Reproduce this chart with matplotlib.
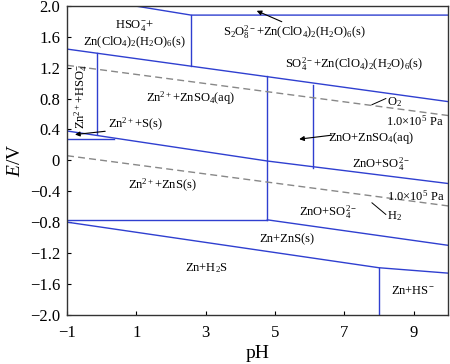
import matplotlib
matplotlib.use('Agg')
import matplotlib.pyplot as plt

plt.rcParams['font.family'] = ['Liberation Serif', 'DejaVu Serif']
plt.rcParams['mathtext.fontset'] = 'custom'
plt.rcParams['mathtext.rm'] = 'Liberation Serif'
plt.rcParams['mathtext.it'] = 'Liberation Serif:italic'
plt.rcParams['axes.unicode_minus'] = True

# boundary lines (pH, E/V)
s2o8_ph = [0.94, 2.58, 10.0]
s2o8_E = [2.0, 1.88, 1.88]
hso4_vert_ph = [2.58, 2.58]
hso4_vert_E = [1.88, 1.22]
so4_upper_ph = [-1.0, 10.0]
so4_upper_E = [1.44, 0.76]
zn_hso4_ph = [-0.13, -0.13]
zn_hso4_E = [1.387, 0.34]
s_horiz_ph = [-1.0, 0.36]
s_horiz_E = [0.28, 0.28]
znso4_lower_ph = [-1.0, 4.8, 10.0]
znso4_lower_E = [0.38, -0.01, -0.30]
zno_vert1_ph = [4.78, 4.78]
zno_vert1_E = [1.09, -0.77]
zno_vert2_ph = [6.1, 6.1]
zno_vert2_E = [0.98, -0.10]
zns_horiz_ph = [-1.0, 4.78]
zns_horiz_E = [-0.77, -0.77]
zn_zns_ph = [4.78, 10.0]
zn_zns_E = [-0.77, -1.10]
zn_h2s_ph = [-1.0, 8.0, 10.0]
zn_h2s_E = [-0.80, -1.39, -1.46]
hs_vert_ph = [8.0, 8.0]
hs_vert_E = [-1.39, -2.0]
# water stability lines
o2_ph = [-1.0, 10.0]
o2_E = [1.23, 0.58]
h2_ph = [-1.0, 10.0]
h2_E = [0.06, -0.59]

xticks = [-1, 1, 3, 5, 7, 9]
yticks = [-2.0, -1.6, -1.2, -0.8, -0.4, 0, 0.4, 0.8, 1.2, 1.6, 2.0]
ylabels = ['\u22122.0', '\u22121.6', '\u22121.2', '\u22120.8', '\u22120.4', '0',
           '0.4', '0.8', '1.2', '1.6', '2.0']

fig = plt.figure(figsize=(4.5, 3.64), dpi=100)
ax = fig.add_axes([0.149, 0.135, 0.847, 0.849])

blue = '#2f3fd0'
segs = [(s2o8_ph, s2o8_E), (hso4_vert_ph, hso4_vert_E), (so4_upper_ph, so4_upper_E),
        (zn_hso4_ph, zn_hso4_E), (s_horiz_ph, s_horiz_E), (znso4_lower_ph, znso4_lower_E),
        (zno_vert1_ph, zno_vert1_E), (zno_vert2_ph, zno_vert2_E),
        (zns_horiz_ph, zns_horiz_E), (zn_zns_ph, zn_zns_E),
        (zn_h2s_ph, zn_h2s_E), (hs_vert_ph, hs_vert_E)]
for xs, ys in segs:
    ax.plot(xs, ys, color=blue, lw=1.0)

ax.plot(o2_ph, o2_E, color='#888888', lw=1.0, dashes=(5, 3))
ax.plot(h2_ph, h2_E, color='#888888', lw=1.0, dashes=(5, 3))

fs = 9
pa = r'$\mathit{1.0{\times}10^5}$ Pa'
ax.text(0.94, 1.74, r'HSO$_4^{-}$+', ha='center', va='center', fontsize=fs)
ax.text(0.94, 1.53, r'Zn(ClO$_4$)$_2$(H$_2$O)$_6$(s)', ha='center', va='center', fontsize=fs)
ax.text(5.56, 1.66, r'S$_2$O$_8^{2-}$+Zn(ClO$_4$)$_2$(H$_2$O)$_6$(s)', ha='center', va='center', fontsize=fs)
ax.annotate('', xy=(4.4, 1.95), xytext=(5.27, 1.78),
            arrowprops=dict(arrowstyle='-|>', color='black', lw=0.8, mutation_scale=7))
ax.text(7.29, 1.25, r'SO$_4^{2-}$+Zn(ClO$_4$)$_2$(H$_2$O)$_6$(s)', ha='center', va='center', fontsize=fs)
ax.text(-0.6, 0.82, r'Zn$^{2+}$+HSO$_4^{-}$', ha='center', va='center', fontsize=fs, rotation=90)
ax.text(2.58, 0.81, r'Zn$^{2+}$+ZnSO$_4$(aq)', ha='center', va='center', fontsize=fs)
ax.text(0.18, 0.46, r'Zn$^{2+}$+S(s)', ha='left', va='center', fontsize=fs)
ax.annotate('', xy=(-0.85, 0.33), xytext=(0.18, 0.38),
            arrowprops=dict(arrowstyle='-|>', color='black', lw=0.8, mutation_scale=7))
ax.text(8.45, 0.76, r'O$_2$', ha='center', va='center', fontsize=fs)
ax.plot([7.8, 8.2], [0.72, 0.80], color='black', lw=0.7)
ax.text(9.03, 0.50, pa, ha='center', va='center', fontsize=fs)
ax.text(7.77, 0.29, r'ZnO+ZnSO$_4$(aq)', ha='center', va='center', fontsize=fs)
ax.annotate('', xy=(5.62, 0.27), xytext=(6.72, 0.33),
            arrowprops=dict(arrowstyle='-|>', color='black', lw=0.8, mutation_scale=7))
ax.text(8.05, -0.05, r'ZnO+SO$_4^{2-}$', ha='center', va='center', fontsize=fs)
ax.text(1.75, -0.32, r'Zn$^{2+}$+ZnS(s)', ha='center', va='center', fontsize=fs)
ax.text(9.06, -0.47, pa, ha='center', va='center', fontsize=fs)
ax.plot([7.8, 8.2], [-0.55, -0.70], color='black', lw=0.7)
ax.text(8.45, -0.72, r'H$_2$', ha='center', va='center', fontsize=fs)
ax.text(6.53, -0.67, r'ZnO+SO$_4^{2-}$', ha='center', va='center', fontsize=fs)
ax.text(5.33, -1.02, r'Zn+ZnS(s)', ha='center', va='center', fontsize=fs)
ax.text(3.02, -1.39, r'Zn+H$_2$S', ha='center', va='center', fontsize=fs)
ax.text(8.97, -1.69, r'Zn+HS$^{-}$', ha='center', va='center', fontsize=fs)

ax.set_xlim(-1, 10)
ax.set_ylim(-2.0, 2.0)
ax.set_xticks(xticks)
ax.set_xticklabels(['\u22121', '1', '3', '5', '7', '9'])
ax.set_yticks(yticks)
ax.set_yticklabels(ylabels)
ax.tick_params(direction='in', length=3, width=0.8, labelsize=12)
ax.tick_params(axis='x', pad=7)
ax.tick_params(axis='y', pad=5)
for sp in ax.spines.values():
    sp.set_color('#333333')
    sp.set_linewidth(1.0)
ax.set_xlabel('pH', fontsize=14, labelpad=3)
ax.set_ylabel(r'$E$/V', fontsize=14, labelpad=4)

fig.savefig('out.png', dpi=100)
